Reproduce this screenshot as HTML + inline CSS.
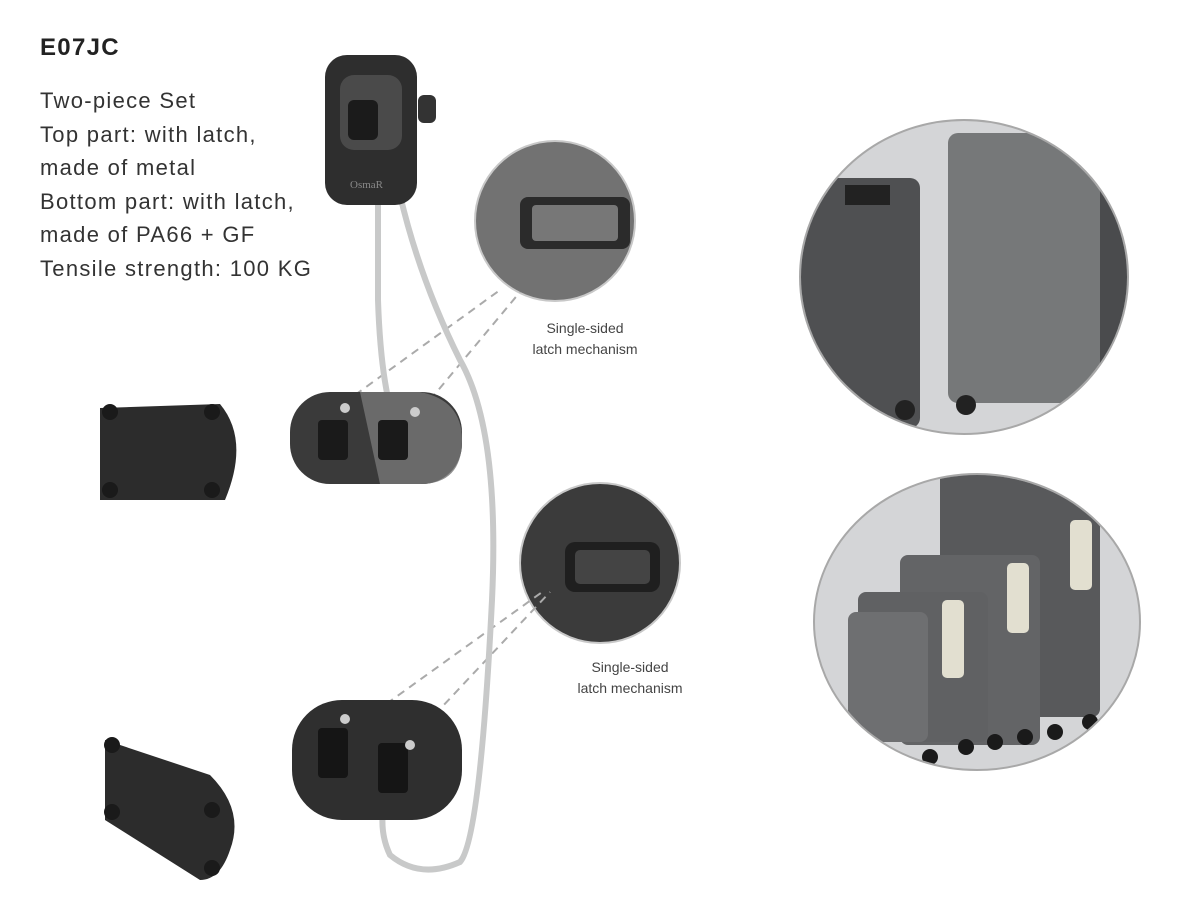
<!DOCTYPE html>
<html><head><meta charset="utf-8"><style>
body{margin:0;background:#fff;}
.w{position:relative;width:1200px;height:900px;overflow:hidden;font-family:"Liberation Sans",sans-serif;}
.t{position:absolute;left:40px;color:#333;font-size:22px;letter-spacing:1.3px;}
.lab{position:absolute;font-size:14px;color:#444;text-align:center;line-height:21px;}
</style></head><body><div class="w">
<div class="t" style="top:34px;font-weight:bold;font-size:24px;color:#222">E07JC</div>
<div class="t" style="top:84px;line-height:33.5px">Two-piece Set<br>Top part: with latch,<br>made of metal<br>Bottom part: with latch,<br>made of PA66 + GF<br>Tensile strength: 100 KG</div>
<div class="lab" style="left:515px;top:318px;width:140px">Single-sided<br>latch mechanism</div>
<div class="lab" style="left:555px;top:657px;width:150px">Single-sided<br>latch mechanism</div>
<svg width="1200" height="900" style="position:absolute;left:0;top:0">
<defs><clipPath id="c1"><ellipse cx="964" cy="277" rx="163" ry="156"/></clipPath><clipPath id="c2"><ellipse cx="977" cy="622" rx="162" ry="147"/></clipPath></defs>
<ellipse cx="964" cy="277" rx="164" ry="157" fill="#d4d5d7" stroke="#a8a8a8" stroke-width="2"/>
<g clip-path="url(#c1)">
<rect x="790" y="178" width="130" height="250" rx="10" fill="#4f5052"/>
<rect x="948" y="133" width="170" height="270" rx="10" fill="#767879"/>
<rect x="1100" y="150" width="40" height="250" fill="#4a4b4d"/>
<rect x="845" y="185" width="45" height="20" fill="#222"/>
<circle cx="905" cy="410" r="10" fill="#222"/><circle cx="966" cy="405" r="10" fill="#222"/>
</g>
<ellipse cx="977" cy="622" rx="163" ry="148" fill="#d4d5d7" stroke="#a8a8a8" stroke-width="2"/>
<g clip-path="url(#c2)">
<rect x="940" y="437" width="160" height="280" rx="8" fill="#58595b"/>
<rect x="900" y="555" width="140" height="190" rx="8" fill="#636466"/>
<rect x="858" y="592" width="130" height="150" rx="8" fill="#606163"/>
<rect x="848" y="612" width="80" height="130" rx="8" fill="#6e6f71"/>
<rect x="942" y="600" width="22" height="78" rx="5" fill="#e2dfd0"/>
<rect x="1007" y="563" width="22" height="70" rx="5" fill="#e2dfd0"/>
<rect x="1070" y="520" width="22" height="70" rx="5" fill="#e2dfd0"/>
<g fill="#1a1a1a"><circle cx="866" cy="745" r="8"/><circle cx="930" cy="757" r="8"/><circle cx="966" cy="747" r="8"/><circle cx="995" cy="742" r="8"/><circle cx="1025" cy="737" r="8"/><circle cx="1055" cy="732" r="8"/><circle cx="1090" cy="722" r="8"/></g>
</g>
<circle cx="555" cy="221" r="80" fill="#727272" stroke="#c8c8c8" stroke-width="2"/>
<rect x="520" y="197" width="110" height="52" rx="8" fill="#2b2b2b"/>
<rect x="532" y="205" width="86" height="36" rx="4" fill="#777"/>
<circle cx="600" cy="563" r="80" fill="#3b3b3b" stroke="#c8c8c8" stroke-width="2"/>
<rect x="565" y="542" width="95" height="50" rx="10" fill="#1f1f1f"/>
<rect x="575" y="550" width="75" height="34" rx="5" fill="#444"/>
<g stroke="#aaa" stroke-width="2" stroke-dasharray="8,6" fill="none">
<line x1="355" y1="395" x2="500" y2="290"/><line x1="430" y1="400" x2="520" y2="292"/>
<line x1="375" y1="712" x2="545" y2="590"/><line x1="425" y1="725" x2="550" y2="592"/>
</g>
<g stroke="#c8c9c9" stroke-width="6" fill="none" stroke-linecap="round">
<path d="M378 195 L378 300 Q380 360 388 398"/>
<path d="M400 195 Q420 280 460 360 Q500 430 492 600 Q480 840 460 862 Q420 880 390 855 Q378 830 385 800"/>
</g>
<rect x="418" y="95" width="18" height="28" rx="6" fill="#333"/>
<rect x="325" y="55" width="92" height="150" rx="22" fill="#2e2e2e"/>
<rect x="340" y="75" width="62" height="75" rx="14" fill="#4a4a4a"/>
<rect x="348" y="100" width="30" height="40" rx="6" fill="#1b1b1b"/>
<text x="350" y="188" font-size="11" fill="#888" font-family="Liberation Serif">OsmaR</text>
<rect x="290" y="392" width="172" height="92" rx="40" fill="#3a3a3a"/>
<path d="M360 392 L420 392 Q462 400 462 440 Q462 484 420 484 L380 484 Z" fill="#777" opacity="0.8"/>
<rect x="318" y="420" width="30" height="40" rx="4" fill="#1a1a1a"/><rect x="378" y="420" width="30" height="40" rx="4" fill="#1a1a1a"/>
<circle cx="345" cy="408" r="5" fill="#ccc"/><circle cx="415" cy="412" r="5" fill="#ccc"/>
<rect x="292" y="700" width="170" height="120" rx="50" fill="#2f2f2f"/>
<rect x="318" y="728" width="30" height="50" rx="4" fill="#151515"/><rect x="378" y="743" width="30" height="50" rx="4" fill="#151515"/>
<circle cx="345" cy="719" r="5" fill="#ccc"/><circle cx="410" cy="745" r="5" fill="#ccc"/>
<path d="M100 408 L220 404 Q250 440 225 500 L100 500 Z" fill="#2c2c2c"/>
<circle cx="110" cy="412" r="8" fill="#1a1a1a"/><circle cx="110" cy="490" r="8" fill="#1a1a1a"/><circle cx="212" cy="412" r="8" fill="#1a1a1a"/><circle cx="212" cy="490" r="8" fill="#1a1a1a"/>
<path d="M105 740 L210 775 Q245 810 230 850 Q220 880 200 880 L105 820 Z" fill="#2c2c2c"/>
<circle cx="112" cy="745" r="8" fill="#1a1a1a"/><circle cx="112" cy="812" r="8" fill="#1a1a1a"/><circle cx="212" cy="810" r="8" fill="#1a1a1a"/><circle cx="212" cy="868" r="8" fill="#1a1a1a"/>
</svg>
</div></body></html>
